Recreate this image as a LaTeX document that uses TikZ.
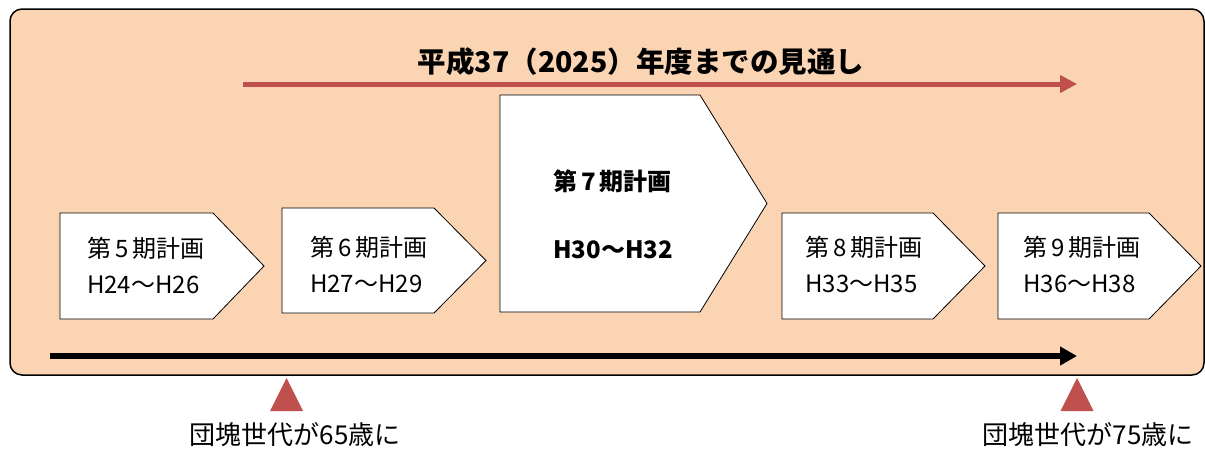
\documentclass[tikz,border=0pt]{standalone}
\usepackage{fontspec}
\setmainfont{Noto Sans CJK JP}
\usepackage{tikz}
\usetikzlibrary{arrows.meta}
\definecolor{peach}{RGB}{251,212,180}
\definecolor{brick}{RGB}{192,80,77}

\begin{document}
\begin{tikzpicture}[x=1pt,y=-1pt]
    \useasboundingbox (0,0) rectangle (1205,450);
    % Background
    \filldraw[fill=peach, draw=black, line width=1.5pt, rounded corners=12pt] (10,9) rectangle (1204,375);
    % Title
    \node (Title) at (641,62) {\fontsize{28.5}{28.5}\selectfont\bfseries 平成37（2025）年度までの見通し};
    \coordinate (Red-start) at (243,84);
    \coordinate (Red-end) at (1077,84);
    \draw[brick, line width=5pt, -{Triangle[length=17pt,width=17pt]}] (Red-start) -- (Red-end);
    % Plans
    \foreach \i/\xl/\yt/\yb/\xf/\xp/\tx/\ty/\name/\yrs in {5/60/213/319/213/264/87/266/第\,5\,期計画/H24～H26,
            6/282/208/313/434/486/310/265/第\,6\,期計画/H27～H29,
            8/782/213/319/933/985/805/265/第\,8\,期計画/H33～H35,
            9/998/213/319/1149/1201/1023/265/第\,9\,期計画/H36～H38} {
        \filldraw[fill=white, draw=black, line width=0.8pt] (\xl,\yt) -- (\xf,\yt) -- (\xp,{(\yt+\yb)/2}) -- (\xf,\yb) -- (\xl,\yb) -- cycle;
        \node[anchor=west, align=left, inner sep=0pt, font=\fontsize{24}{36}\selectfont] (Plan-\i) at (\tx,\ty) {\name\\\yrs};
    }
    % Current plan
    \filldraw[fill=white, draw=black, line width=0.8pt] (500,95) -- (700,95) -- (767,203.5) -- (700,312) -- (500,312) -- cycle;
    \node[anchor=west, align=left, inner sep=0pt, font=\fontsize{24}{68}\selectfont\bfseries] (Plan-7) at (553,214) {第\,7\,期計画\\H30～H32};
    % Time line
    \coordinate (Time-start) at (50,356);
    \coordinate (Time-end) at (1077,356);
    \draw[black, line width=6pt, -{Triangle[length=17pt,width=18pt]}] (Time-start) -- (Time-end);
    % Markers
    \foreach \age/\xc/\lx in {65/286.5/295, 75/1077/1088} {
        \fill[brick] (\xc-16.5,411) -- (\xc,378) -- (\xc+16.5,411) -- cycle;
        \node[font=\fontsize{26}{26}\selectfont] (Age-\age) at (\lx,435) {団塊世代が\age 歳に};
    }
\end{tikzpicture}
\end{document}
